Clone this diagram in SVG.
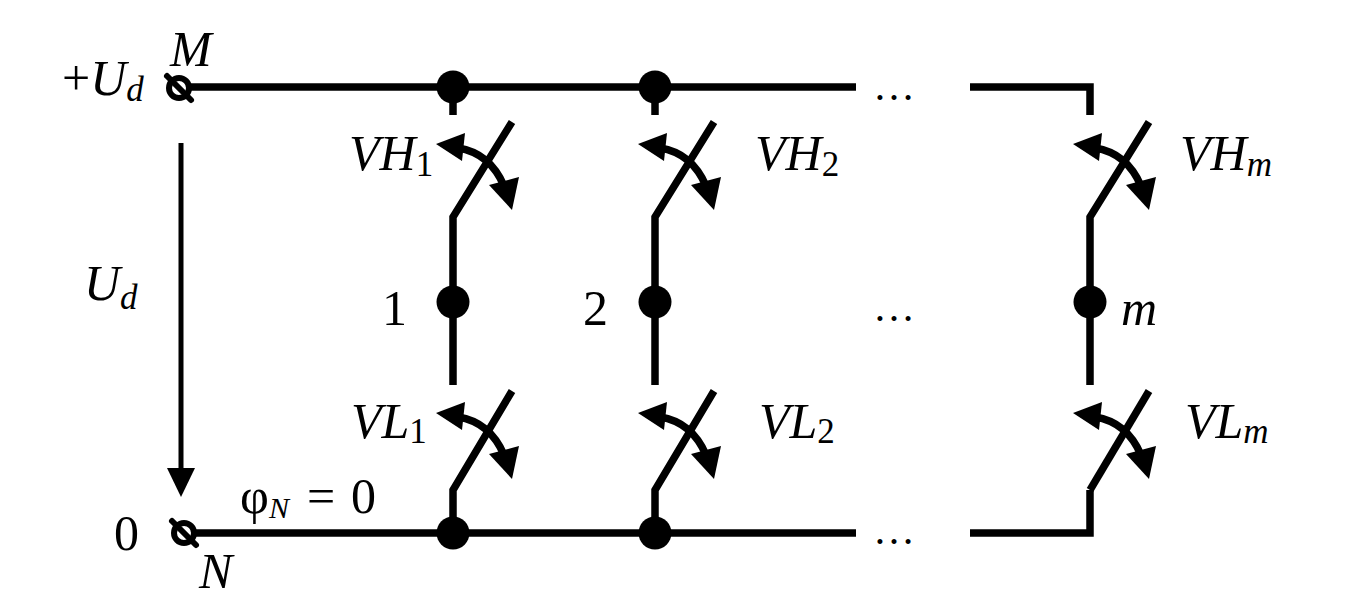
<svg xmlns="http://www.w3.org/2000/svg" width="1348" height="599" viewBox="0 0 1348 599">
<style>
.w{fill:none;stroke:#000;stroke-width:7.5;stroke-linecap:butt;stroke-linejoin:miter}
.dot{fill:#000}
.term{fill:#fff;stroke:#000;stroke-width:6}
.tl{stroke:#000;stroke-width:6;stroke-linecap:round}
.t{font-family:"Liberation Serif","Times New Roman",serif;font-size:50px;fill:#000}
.i{font-style:italic}
.s{font-size:35px}
.el{font-family:"Liberation Serif","Times New Roman",serif;font-size:42px;fill:#000;text-anchor:middle}
</style>
<defs>
<g id="arr">
<path d="M5,26 Q37,31 51,64" fill="none" stroke="#000" stroke-width="7.5"/>
<polygon points="-17,22 12,11 9,39" fill="#000"/>
<polygon points="59,88 36,63 66,55" fill="#000"/>
</g>
</defs>

<g id="connectors">
<line class="w" x1="188" y1="87" x2="856" y2="87"/>
<path class="w" d="M970,87 H1090 V115"/>
<line class="w" x1="193" y1="533" x2="856" y2="533"/>
<path class="w" d="M970,533 H1090 V490"/>
<line x1="181" y1="143" x2="181" y2="472" stroke="#000" stroke-width="5"/>
<polygon points="181,497 167,468 195,468" fill="#000"/>
</g>

<g id="terminal-M">
<circle class="term" cx="179" cy="88" r="10"/>
<line class="tl" x1="167" y1="76" x2="191" y2="100"/>
</g>
<g id="terminal-N">
<circle class="term" cx="184" cy="533" r="10"/>
<line class="tl" x1="172" y1="521" x2="196" y2="545"/>
</g>

<g id="leg1">
<circle class="dot" cx="453" cy="87" r="16.5"/>
<line class="w" x1="453" y1="87" x2="453" y2="115"/>
<path class="w" d="M512,122 L453,217 L453,385"/>
<circle class="dot" cx="453" cy="302" r="16.5"/>
<path class="w" d="M512,391 L453,490 L453,533"/>
<circle class="dot" cx="453" cy="533" r="16.5"/>
<use href="#arr" x="453" y="122"/>
<use href="#arr" x="453" y="391"/>
</g>

<g id="leg2">
<circle class="dot" cx="655" cy="87" r="16.5"/>
<line class="w" x1="655" y1="87" x2="655" y2="115"/>
<path class="w" d="M714,122 L655,217 L655,385"/>
<circle class="dot" cx="655" cy="302" r="16.5"/>
<path class="w" d="M714,391 L655,490 L655,533"/>
<circle class="dot" cx="655" cy="533" r="16.5"/>
<use href="#arr" x="655" y="122"/>
<use href="#arr" x="655" y="391"/>
</g>

<g id="legm">
<path class="w" d="M1149,122 L1090,217 L1090,385"/>
<circle class="dot" cx="1090" cy="302" r="16.5"/>
<path class="w" d="M1149,391 L1090,490"/>
<use href="#arr" x="1090" y="122"/>
<use href="#arr" x="1090" y="391"/>
</g>

<g id="labels">
<text class="t" x="62" y="95">+<tspan class="i">U</tspan><tspan class="i s" dy="6">d</tspan></text>
<text class="t i" x="170" y="66">M</text>
<text class="t" x="84" y="300"><tspan class="i">U</tspan><tspan class="i s" dy="9">d</tspan></text>
<text class="t" x="114" y="550">0</text>
<text class="t i" x="199" y="588">N</text>
<text class="t" x="240" y="513" font-size="44">φ<tspan class="i" x="269" dy="5" font-size="30">N</tspan><tspan x="307" dy="-5">=</tspan><tspan x="351">0</tspan></text>
<text class="t" x="349" y="170"><tspan class="i">VH</tspan><tspan class="s" dy="6">1</tspan></text>
<text class="t" x="755" y="170"><tspan class="i">VH</tspan><tspan class="s" dy="6">2</tspan></text>
<text class="t" x="1180" y="170"><tspan class="i">VH</tspan><tspan class="i s" dy="6">m</tspan></text>
<text class="t" x="351" y="438"><tspan class="i">VL</tspan><tspan class="s" dy="5">1</tspan></text>
<text class="t" x="759" y="438"><tspan class="i">VL</tspan><tspan class="s" dy="5">2</tspan></text>
<text class="t" x="1185" y="438"><tspan class="i">VL</tspan><tspan class="i s" dy="5">m</tspan></text>
<text class="t" x="382" y="325">1</text>
<text class="t" x="583" y="325">2</text>
<text class="t i" x="1121" y="325">m</text>
<text class="el" x="894" y="100">…</text>
<text class="el" x="894" y="321">…</text>
<text class="el" x="894" y="544">…</text>
</g>
</svg>
